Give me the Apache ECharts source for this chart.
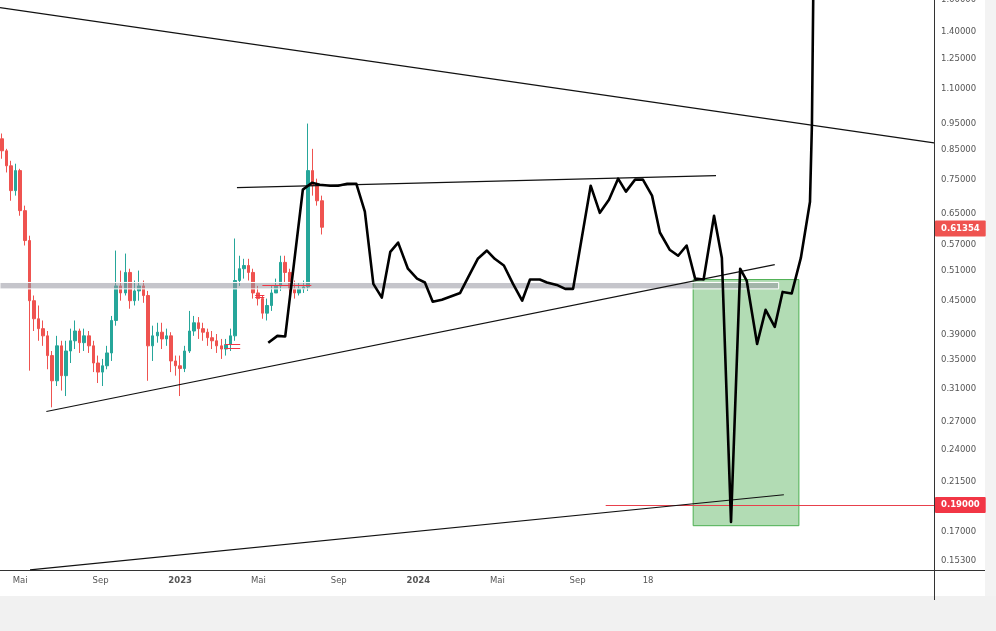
<!DOCTYPE html>
<html><head><meta charset="utf-8">
<script src="https://cdn.jsdelivr.net/npm/echarts@6/dist/echarts.min.js"></script>
<style>html,body{margin:0;padding:0;background:#fff}#c{width:996px;height:631px}</style>
</head><body><div id="c"></div>
<script>
// ---- weekly candles (first week starts 2022-03-31) ----
const candleStart = [2022, 3, 31];
const candleStepDays = 7;
const candleOpen = [0.891,0.847,0.795,0.716,0.779,0.658,0.580,0.450,0.417,0.400,0.388,0.357,0.321,0.372,0.328,0.364,0.380,0.396,0.377,0.388,0.372,0.346,0.333,0.342,0.361,0.414,0.479,0.465,0.507,0.450,0.469,0.479,0.460,0.372,0.388,0.394,0.383,0.388,0.349,0.342,0.338,0.364,0.396,0.410,0.400,0.394,0.385,0.380,0.372,0.367,0.374,0.388,0.490,0.515,0.522,0.507,0.465,0.454,0.427,0.441,0.465,0.479,0.529,0.507,0.473,0.465,0.473,0.477,0.779,0.731,0.686];
const candleClose = [0.847,0.795,0.716,0.779,0.658,0.580,0.450,0.417,0.400,0.388,0.357,0.321,0.372,0.328,0.364,0.380,0.396,0.377,0.388,0.372,0.346,0.333,0.342,0.361,0.414,0.479,0.465,0.507,0.450,0.469,0.479,0.460,0.372,0.388,0.394,0.383,0.388,0.349,0.342,0.338,0.364,0.396,0.410,0.400,0.394,0.385,0.380,0.372,0.367,0.374,0.388,0.490,0.515,0.522,0.507,0.465,0.454,0.427,0.441,0.465,0.479,0.529,0.507,0.473,0.465,0.473,0.477,0.779,0.731,0.686,0.61354];
const candleHigh = [0.911,0.854,0.812,0.802,0.785,0.672,0.592,0.460,0.441,0.414,0.396,0.364,0.388,0.380,0.380,0.400,0.414,0.400,0.400,0.396,0.380,0.357,0.352,0.372,0.422,0.556,0.511,0.549,0.515,0.490,0.511,0.490,0.469,0.405,0.410,0.410,0.400,0.394,0.357,0.357,0.372,0.431,0.422,0.420,0.410,0.400,0.396,0.391,0.383,0.383,0.400,0.585,0.544,0.537,0.537,0.515,0.479,0.460,0.454,0.479,0.494,0.544,0.544,0.515,0.490,0.486,0.490,0.950,0.854,0.753,0.701];
const candleLow = [0.819,0.773,0.686,0.701,0.644,0.568,0.335,0.396,0.380,0.372,0.337,0.287,0.314,0.308,0.301,0.346,0.367,0.361,0.364,0.361,0.333,0.318,0.314,0.337,0.349,0.405,0.450,0.460,0.435,0.441,0.450,0.446,0.321,0.349,0.377,0.367,0.372,0.333,0.328,0.301,0.333,0.361,0.388,0.383,0.380,0.372,0.367,0.361,0.352,0.357,0.364,0.380,0.479,0.494,0.490,0.454,0.441,0.417,0.414,0.431,0.465,0.469,0.486,0.454,0.454,0.460,0.465,0.469,0.701,0.672,0.595];

// ---- hand-drawn projection path ----
const pathDates = ['2023-05-16','2023-05-30','2023-06-11','2023-07-08','2023-07-22','2023-08-03','2023-08-19','2023-08-31','2023-09-14','2023-09-28','2023-10-11','2023-10-24','2023-11-06','2023-11-19','2023-12-01','2023-12-16','2023-12-30','2024-01-11','2024-01-23','2024-02-06','2024-03-05','2024-03-17','2024-04-01','2024-04-15','2024-04-27','2024-05-11','2024-05-25','2024-06-08','2024-06-20','2024-07-05','2024-07-16','2024-07-31','2024-08-13','2024-08-25','2024-09-21','2024-10-05','2024-10-19','2024-11-02','2024-11-14','2024-11-28','2024-12-10','2024-12-24','2025-01-05','2025-01-20','2025-02-02','2025-02-15','2025-02-28','2025-03-13','2025-03-29','2025-04-10','2025-04-24','2025-05-08','2025-05-18','2025-06-03','2025-06-16','2025-06-30','2025-07-12','2025-07-26','2025-08-09','2025-08-23','2025-08-26','2025-08-28'];
const pathValues = [0.377,0.388,0.387,0.719,0.740,0.734,0.731,0.731,0.737,0.737,0.655,0.483,0.456,0.553,0.575,0.515,0.494,0.486,0.448,0.452,0.465,0.496,0.537,0.556,0.537,0.522,0.483,0.450,0.492,0.492,0.486,0.481,0.473,0.473,0.731,0.652,0.689,0.753,0.713,0.750,0.750,0.701,0.600,0.558,0.544,0.568,0.494,0.492,0.644,0.539,0.177,0.515,0.490,0.375,0.433,0.403,0.467,0.464,0.539,0.683,0.950,1.63];

// ---- trend lines ----
const trendStartDates = ['2022-03-31','2023-03-29','2022-06-10','2022-05-16'];
const trendStartValues = [1.549,0.725,0.282,0.1446];
const trendEndDates = ['2026-03-01','2025-04-01','2025-06-30','2025-07-14'];
const trendEndValues = [0.876,0.763,0.524,0.1985];

// ---- zones ----
const boxDates = ['2025-02-25','2025-08-06'];
const boxValues = [0.492,0.1742];
const bandDates = ['2022-03-31','2025-07-06'];
const bandValues = [0.486,0.473];
const targetLineStart = '2024-10-14';
const targetValue = 0.19;
const lastPrice = 0.61354;
const redMarkStarts = ['2023-03-11','2023-03-11','2023-04-26','2023-04-26','2023-05-07'];
const redMarkEnds = ['2023-04-03','2023-04-03','2023-05-10','2023-05-10','2023-07-21'];
const redMarkValues = [0.374,0.369,0.461,0.457,0.481];

// ---- axis ticks ----
const yTickValues = [1.6,1.4,1.25,1.1,0.95,0.85,0.75,0.65,0.57,0.51,0.45,0.39,0.35,0.31,0.27,0.24,0.215,0.17,0.153];
const xTickDates = ['2022-05-01','2022-09-01','2023-01-01','2023-05-01','2023-09-01','2024-01-01','2024-05-01','2024-09-01','2024-12-18'];
const xTickLabels = ['Mai','Sep','2023','Mai','Sep','2024','Mai','Sep','18'];

const T = s => { const p = s.split('-'); return new Date(+p[0], +p[1]-1, +p[2]).getTime(); };
const xMin = T('2022-03-31'), xMax = T('2026-03-01');
const FONT = 'DejaVu Sans';
const HIDDEN = {color: 'rgba(0,0,0,0)', width: 0, type: 'solid'};

const candleData = candleOpen.map((o, i) => [
  new Date(candleStart[0], candleStart[1]-1, candleStart[2] + 3 + i*candleStepDays).getTime(),
  o, candleClose[i], candleLow[i], candleHigh[i]
]);

const yTickItems = yTickValues.map(v => ({
  yAxis: v, lineStyle: HIDDEN,
  label: {show: true, position: 'end', distance: 7, formatter: v.toFixed(5), color: '#555', fontSize: 8.5, fontFamily: FONT}
}));
const xTickItems = xTickDates.map((d, i) => ({
  xAxis: T(d), lineStyle: HIDDEN,
  label: {show: true, position: 'start', distance: 6, formatter: xTickLabels[i], color: '#555', fontSize: 8.5, fontFamily: FONT,
    fontWeight: /^\d{4}$/.test(xTickLabels[i]) ? 'bold' : 'normal'}
}));
const priceItems = [
  {yAxis: lastPrice, lineStyle: HIDDEN,
   label: {show: true, position: 'end', distance: 1, formatter: lastPrice.toFixed(5), color: '#fff', backgroundColor: '#ef5350',
     padding: [4, 6, 3, 6], borderRadius: 1, fontSize: 8.5, fontWeight: 'bold', fontFamily: FONT}}
];
const redMarkItems = redMarkValues.map((v, i) => [
  {coord: [T(redMarkStarts[i]), v], lineStyle: {color: '#f23645', width: 1, type: 'solid'}},
  {coord: [T(redMarkEnds[i]), v]}
]);
redMarkItems.push([
  {coord: [T(targetLineStart), targetValue], lineStyle: {color: '#e8404c', width: 1, type: 'solid'},
   label: {show: true, position: 'end', distance: 1, formatter: targetValue.toFixed(5), color: '#fff', backgroundColor: '#f23645',
     padding: [4, 6, 3, 6], borderRadius: 1, fontSize: 8.5, fontWeight: 'bold', fontFamily: FONT}},
  {coord: [xMax, targetValue]}
]);

const trendSeries = trendStartDates.map((d, i) => ({
  type: 'line', silent: true, showSymbol: false, z: 6,
  data: [[T(d), trendStartValues[i]], [T(trendEndDates[i]), trendEndValues[i]]],
  lineStyle: {color: '#111', width: 1.2}
}));
trendSeries[0].markLine = {
  silent: true, symbol: ['none', 'none'], animation: false, z: 5,
  label: {show: false}, emphasis: {disabled: true},
  lineStyle: {type: 'solid'},
  data: [...yTickItems, ...xTickItems, ...priceItems]
};
trendSeries[3].markArea = {
  silent: true, z: 1, animation: false,
  data: [[{coord: [T(boxDates[0]), boxValues[0]], itemStyle: {color: 'rgba(76,175,80,0.43)', borderColor: '#4caf50', borderWidth: 1}},
          {coord: [T(boxDates[1]), boxValues[1]]}]]
};
trendSeries[2].markArea = {
  silent: true, z: 3, animation: false,
  data: [[{coord: [T(bandDates[0]), bandValues[0]], itemStyle: {color: 'rgba(150,150,160,0.55)', borderColor: '#ffffff', borderWidth: 1}},
          {coord: [T(bandDates[1]), bandValues[1]]}]]
};

const chart = echarts.init(document.getElementById('c'), null, {renderer: 'canvas', width: 996, height: 631});
chart.setOption({
  animation: false,
  backgroundColor: '#ffffff',
  grid: {left: 0, right: 62, top: 0, bottom: 61, containLabel: false},
  xAxis: {type: 'time', min: xMin, max: xMax,
    axisLine: {show: true, lineStyle: {color: '#333', width: 1}},
    axisTick: {show: false}, axisLabel: {show: false}, splitLine: {show: false}},
  yAxis: {type: 'log', logBase: 10, min: 0.1445, max: 1.6, position: 'right',
    axisLine: {show: true, lineStyle: {color: '#333', width: 1}},
    axisTick: {show: false}, axisLabel: {show: false}, splitLine: {show: false}},
  graphic: [
    {type: 'rect', shape: {x: 985, y: 0, width: 11, height: 631}, style: {fill: '#f3f3f3'}, z: 0, silent: true},
    {type: 'rect', shape: {x: 0, y: 596, width: 996, height: 35}, style: {fill: '#f1f1f1'}, z: 0, silent: true},
    {type: 'line', shape: {x1: 934, y1: 570.5, x2: 985, y2: 570.5}, style: {stroke: '#333', lineWidth: 1}, z: 1, silent: true},
    {type: 'line', shape: {x1: 934.5, y1: 570, x2: 934.5, y2: 600}, style: {stroke: '#333', lineWidth: 1}, z: 1, silent: true}
  ],
  series: [
    {type: 'candlestick', name: 'price', z: 2, silent: true,
     encode: {x: 0, y: [1, 2, 3, 4]}, data: candleData, barWidth: 3,
     itemStyle: {color: '#26a69a', color0: '#ef5350', borderColor: '#26a69a', borderColor0: '#ef5350', borderWidth: 1},
     markLine: {silent: true, symbol: ['none', 'none'], animation: false, z: 5, label: {show: false}, emphasis: {disabled: true},
       lineStyle: {type: 'solid'}, data: redMarkItems}},
    ...trendSeries,
    {type: 'line', name: 'projection', z: 10, silent: true, showSymbol: false, clip: true,
     data: pathDates.map((d, i) => [T(d), pathValues[i]]),
     lineStyle: {color: '#000', width: 2.6, join: 'round'}}
  ]
});
</script>
</body></html>
